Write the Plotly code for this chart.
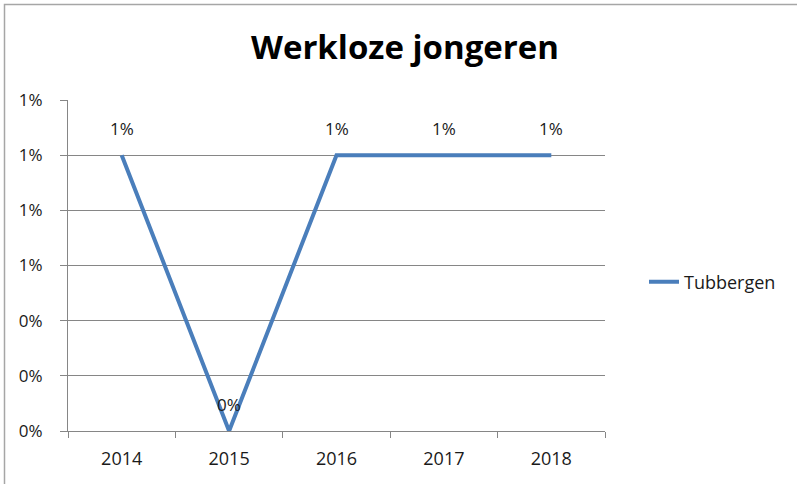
import plotly.graph_objects as go

years = ["2014", "2015", "2016", "2017", "2018"]
values = [0.01, 0.0, 0.01, 0.01, 0.01]
labels = ["1%", "0%", "1%", "1%", "1%"]
series_name = "Tubbergen"
title_text = "Werkloze jongeren"

FONT = "Open Sans"
GRAY = "#868686"
TXT = "#1a1a1a"
FS = 18
W, H = 797, 484
L, R, T, B = 68, 605, 100, 431

fig = go.Figure()
fig.add_trace(go.Scatter(
    x=years, y=values, mode="lines", name=series_name,
    line=dict(color="#4A7EBB", width=4),
    hoverinfo="skip",
))

for i, (yv, lab) in enumerate(zip(values, labels)):
    fig.add_annotation(x=i, y=yv, xref="x", yref="y", text=lab, showarrow=False,
                       yshift=27, font=dict(family=FONT, size=FS - 1, color=TXT))

pw, ph = R - L, B - T
def px_x(p):
    return (p - L) / pw
def px_y(p):
    return (B - p) / ph

# outer chart border (left and top visible)
fig.add_shape(type="rect", xref="paper", yref="paper",
              x0=px_x(4.5), x1=px_x(W + 20), y0=px_y(H + 20), y1=px_y(4.5),
              line=dict(color="#A6A6A6", width=1.5), layer="below")

fig.update_layout(
    width=W, height=H,
    margin=dict(l=L, r=W - R, t=T, b=H - B, pad=0),
    paper_bgcolor="white", plot_bgcolor="white",
    title=dict(text="<b>" + title_text + "</b>", x=405 / W, xanchor="center",
               xref="container", y=1 - 47 / H, yanchor="middle", yref="container",
               font=dict(family=FONT, size=33, color="black")),
    font=dict(family=FONT, size=FS, color=TXT),
    showlegend=True,
    legend=dict(x=px_x(644), xanchor="left", y=px_y(282), yanchor="middle",
                font=dict(family=FONT, size=FS, color=TXT),
                bgcolor="rgba(0,0,0,0)", itemwidth=30),
    xaxis=dict(type="category", range=[-0.5, 4.5], showgrid=False,
               showline=True, linecolor=GRAY, linewidth=1,
               ticks="outside", tickson="boundaries", ticklen=6, tickcolor=GRAY,
               ticklabelstandoff=11, tickfont=dict(family=FONT, size=FS, color=TXT),
               fixedrange=True),
    yaxis=dict(range=[0, 0.012], dtick=0.002, tick0=0, tickformat=".0%",
               showgrid=True, gridcolor=GRAY, gridwidth=1,
               showline=True, linecolor=GRAY, linewidth=1,
               ticks="outside", ticklen=7, tickcolor=GRAY,
               ticklabelstandoff=14, tickfont=dict(family=FONT, size=FS - 1, color=TXT),
               zeroline=False, fixedrange=True),
)

fig.write_html("out.html", config={"displayModeBar": False},
               post_script="document.body.style.margin='0px';document.body.style.overflow='hidden';")
